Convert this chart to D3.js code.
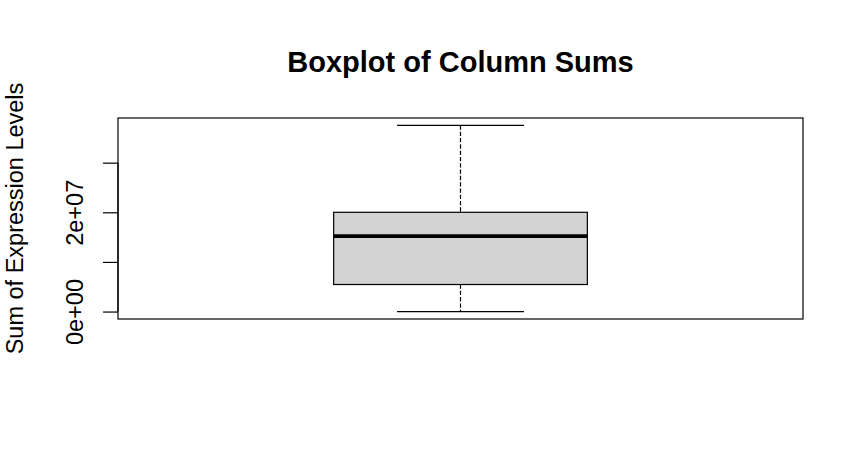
<!DOCTYPE html>
<html>
<head>
<meta charset="utf-8">
<script src="https://cdn.jsdelivr.net/npm/d3@7"></script>
<style>
  html, body { margin: 0; padding: 0; background: #ffffff; }
  svg { display: block; }
  text { font-family: "Liberation Sans", Arial, sans-serif; fill: #000; }
</style>
</head>
<body>
<script>
// ---- data ----
const categories = ["Column Sums"];
const whiskerLow = [0];
const quartile1 = [5.45e6];
const medians = [1.52e7];
const quartile3 = [2.0e7];
const whiskerHigh = [3.75e7];
const tickValues = [0, 1e7, 2e7, 3e7];
const tickLabels = ["0e+00", "", "2e+07", ""];
const titleText = "Boxplot of Column Sums";
const yLabelText = "Sum of Expression Levels";

// ---- layout ----
const W = 864, H = 466;
const plot = { left: 118, right: 803, top: 118, bottom: 319 };

const svg = d3.select("body").append("svg")
  .attr("width", W).attr("height", H);

// y scale with R-style 4% extension
const yMin = d3.min(whiskerLow), yMax = d3.max(whiskerHigh);
const ext = (yMax - yMin) * 0.04;
const y = d3.scaleLinear()
  .domain([yMin - ext, yMax + ext])
  .range([plot.bottom, plot.top]);

// x scale: positions 1..n, xlim = [0.5, n+0.5] extended 4%
const n = categories.length;
const xr = (n + 0.5) - 0.5;
const x = d3.scaleLinear()
  .domain([0.5 - xr * 0.04, n + 0.5 + xr * 0.04])
  .range([plot.left, plot.right]);

const boxHalf = 0.2, stapleHalf = 0.1;
const lw = 1.2;

const g = svg.append("g");

categories.forEach((c, i) => {
  const cx = i + 1;
  // whiskers (dashed)
  g.append("line")
    .attr("x1", x(cx)).attr("x2", x(cx))
    .attr("y1", y(whiskerHigh[i])).attr("y2", y(quartile3[i]))
    .attr("stroke", "#000").attr("stroke-width", lw)
    .attr("stroke-dasharray", "4.3,2");
  g.append("line")
    .attr("x1", x(cx)).attr("x2", x(cx))
    .attr("y1", y(quartile1[i])).attr("y2", y(whiskerLow[i]))
    .attr("stroke", "#000").attr("stroke-width", lw)
    .attr("stroke-dasharray", "4.3,2");
  // staples
  [whiskerHigh[i], whiskerLow[i]].forEach(v => {
    g.append("line")
      .attr("x1", x(cx - stapleHalf)).attr("x2", x(cx + stapleHalf))
      .attr("y1", y(v)).attr("y2", y(v))
      .attr("stroke", "#000").attr("stroke-width", lw);
  });
  // box
  g.append("rect")
    .attr("x", x(cx - boxHalf))
    .attr("y", y(quartile3[i]))
    .attr("width", x(cx + boxHalf) - x(cx - boxHalf))
    .attr("height", y(quartile1[i]) - y(quartile3[i]))
    .attr("fill", "#d3d3d3")
    .attr("stroke", "#000").attr("stroke-width", lw);
  // median
  g.append("line")
    .attr("x1", x(cx - boxHalf)).attr("x2", x(cx + boxHalf))
    .attr("y1", y(medians[i])).attr("y2", y(medians[i]))
    .attr("stroke", "#000").attr("stroke-width", 3.8);
});

// plot frame
svg.append("rect")
  .attr("x", plot.left).attr("y", plot.top)
  .attr("width", plot.right - plot.left)
  .attr("height", plot.bottom - plot.top)
  .attr("fill", "none").attr("stroke", "#000").attr("stroke-width", lw);

// y axis
const yAxis = d3.axisLeft(y)
  .tickValues(tickValues)
  .tickFormat((d, i) => tickLabels[i])
  .tickSize(15)
  .tickPadding(0);
const ax = svg.append("g")
  .attr("transform", `translate(${plot.left},0)`)
  .call(yAxis);
ax.select(".domain").remove();
ax.append("line")
  .attr("x1", 0).attr("x2", 0)
  .attr("y1", y(tickValues[0])).attr("y2", y(tickValues[tickValues.length - 1]))
  .attr("stroke", "#000").attr("stroke-width", lw);
ax.selectAll(".tick line").attr("stroke", "#000").attr("stroke-width", lw);
ax.selectAll(".tick text")
  .attr("x", null).attr("dy", null)
  .attr("transform", "translate(-35,0) rotate(-90)")
  .attr("text-anchor", "middle")
  .style("font-family", "'Liberation Sans', Arial, sans-serif")
  .style("font-size", "23.5px")
  .attr("fill", "#000");

// title
svg.append("text")
  .attr("x", (plot.left + plot.right) / 2)
  .attr("y", 72)
  .attr("text-anchor", "middle")
  .style("font-size", "29px")
  .style("font-weight", "bold")
  .text(titleText);

// y label
svg.append("text")
  .attr("transform", `translate(23,${(plot.top + plot.bottom) / 2}) rotate(-90)`)
  .attr("text-anchor", "middle")
  .style("font-size", "23.5px")
  .text(yLabelText);
</script>
</body>
</html>
